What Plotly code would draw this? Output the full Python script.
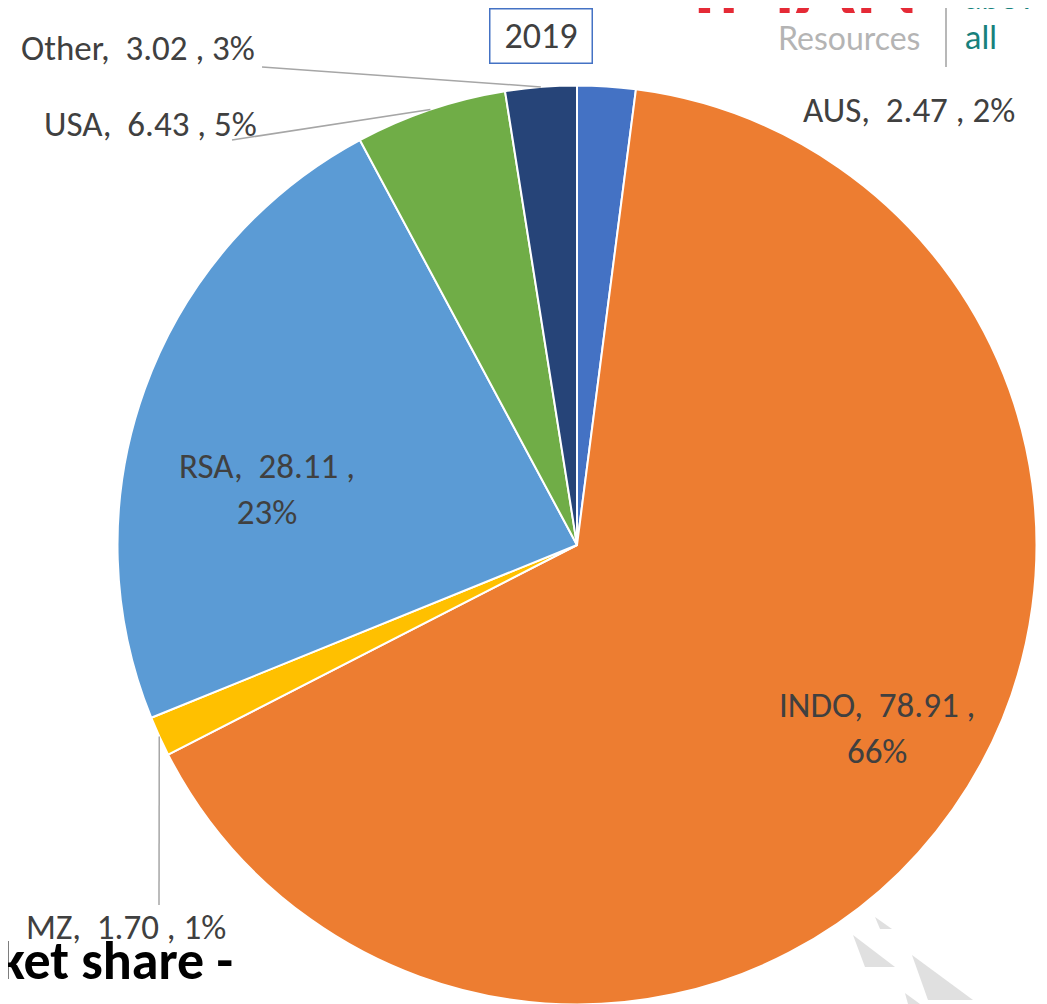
import math
import plotly.graph_objects as go

W, H = 1047, 1004
OFF = 8  # the page body adds an 8px margin, so positions below are page pixels

# data, clockwise from 12 o'clock
countries = ["AUS", "INDO", "MZ", "RSA", "USA", "Other"]
values = [2.47, 78.91, 1.70, 28.11, 6.43, 3.02]
pct_labels = ["2%", "66%", "1%", "23%", "5%", "3%"]
colors = ["#4472C4", "#ED7D31", "#FFC000", "#5B9BD5", "#70AD47", "#264478"]
year = "2019"

# pie placement in page pixels
cx, cy, r = 577, 545, 459.5


def px(x):
    return (x - OFF) / W


def py(y):
    return (H - (y - OFF)) / H


fig = go.Figure(go.Pie(
    labels=countries, values=values, sort=False, direction="clockwise", rotation=0,
    marker=dict(colors=colors, line=dict(color="white", width=2)),
    textinfo="none", hoverinfo="label+value+percent",
    domain=dict(x=[px(cx - r), px(cx + r)], y=[py(cy + r), py(cy - r)]),
))

# label centres and leader-line elbows (page pixels)
label_pos = {"AUS": (909, 110), "INDO": (877, 728), "MZ": (126, 927),
             "RSA": (267, 489), "USA": (150, 124), "Other": (138, 48)}
two_line = {"INDO", "RSA"}
elbows = {"MZ": [(159, 905)], "USA": [(232, 140)], "Other": [(262, 67)]}

font_lbl = dict(family="Carlito, Lato, sans-serif", size=35, color="#404040")
total = sum(values)
cum = 0
for c, v, p in zip(countries, values, pct_labels):
    mid = (cum + v / 2) / total * 2 * math.pi
    cum += v
    sep = "<br>" if c in two_line else " "
    txt = f"{c},  {v:.2f} ,{sep}{p}"
    lx, ly = label_pos[c]
    fig.add_annotation(x=px(lx), y=py(ly), xref="paper", yref="paper", text=txt,
                       xanchor="center", yanchor="middle",
                       showarrow=False, font=font_lbl, align="center")
    if c in elbows:
        ex, ey = cx + r * math.sin(mid), cy - r * math.cos(mid)
        pts = [(ex, ey)] + elbows[c]
        for (x0, y0), (x1, y1) in zip(pts[:-1], pts[1:]):
            fig.add_shape(type="line", xref="paper", yref="paper",
                          x0=px(x0), y0=py(y0), x1=px(x1), y1=py(y1),
                          line=dict(color="#A6A6A6", width=1.5))

# year box
fig.add_annotation(x=px(540.5), y=py(36), xref="paper", yref="paper", text=year,
                   xanchor="center", yanchor="middle",
                   showarrow=False, width=101, height=53, borderpad=0,
                   bordercolor="#4472C4", borderwidth=1.5, bgcolor="white",
                   font=dict(family="Carlito, Lato, sans-serif", size=36, color="#404040"))

# clipped slide title
fig.add_annotation(x=px(235), y=py(961), xref="paper", yref="paper", text="<b>Market share -</b>",
                   xanchor="right", yanchor="middle", showarrow=False,
                   font=dict(family="Carlito, Lato, sans-serif", size=54, color="black"))

# logo, top right
fig.add_annotation(x=px(921), y=py(33), xref="paper", yref="paper", text="<b>IMAN</b>",
                   xanchor="right", yanchor="bottom", showarrow=False,
                   font=dict(family="Lato, sans-serif", size=84, color="#E52A36"))
fig.add_annotation(x=px(922), y=py(38), xref="paper", yref="paper", text="Resources",
                   xanchor="right", yanchor="middle", showarrow=False,
                   font=dict(family="Lato, sans-serif", size=32, color="#B4B4B4"))
fig.add_annotation(x=px(963), y=py(18), xref="paper", yref="paper", text="above",
                   xanchor="left", yanchor="bottom", showarrow=False,
                   font=dict(family="Lato, sans-serif", size=33, color="#17817C"))
fig.add_annotation(x=px(963), y=py(36), xref="paper", yref="paper", text="all",
                   xanchor="left", yanchor="middle", showarrow=False,
                   font=dict(family="Lato, sans-serif", size=33, color="#17817C"))
fig.add_shape(type="line", xref="paper", yref="paper", x0=px(946), x1=px(946),
              y0=py(0), y1=py(67), line=dict(color="#A0A0A0", width=1.5))

# decorative grey triangles, bottom right
tris = [[(875, 917), (892, 929), (880, 929)],
        [(853, 935), (895, 967), (865, 967)],
        [(912, 955), (973, 1000), (928, 1000)],
        [(905, 993), (920, 1004), (908, 1004)]]
for t in tris:
    path = "M " + " L ".join(f"{px(x):.4f},{py(y):.4f}" for x, y in t) + " Z"
    fig.add_shape(type="path", xref="paper", yref="paper", path=path,
                  fillcolor="#E0E0E0", line=dict(width=0), layer="below")

fig.update_layout(width=W, height=H, margin=dict(l=0, r=0, t=0, b=0),
                  showlegend=False, paper_bgcolor="white", plot_bgcolor="white")

fig.write_html("out.html")
